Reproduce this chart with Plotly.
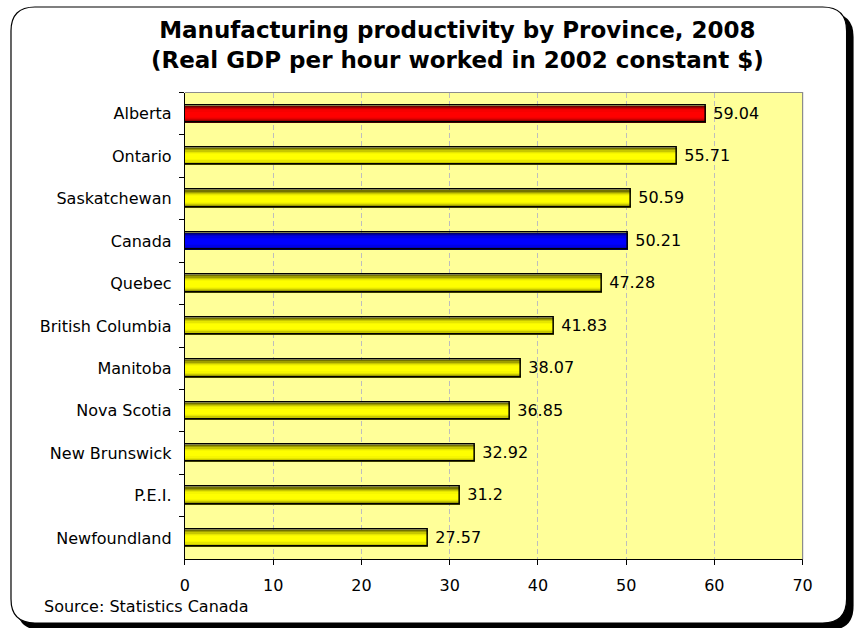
import plotly.graph_objects as go

# ---------------- data ----------------
provinces = ["Alberta", "Ontario", "Saskatchewan", "Canada", "Quebec",
             "British Columbia", "Manitoba", "Nova Scotia", "New Brunswick",
             "P.E.I.", "Newfoundland"]
productivity = [59.04, 55.71, 50.59, 50.21, 47.28, 41.83, 38.07, 36.85,
                32.92, 31.2, 27.57]
x_ticks = [0, 10, 20, 30, 40, 50, 60, 70]

title_text = ("<b>Manufacturing productivity by Province, 2008</b><br>"
              "<b>(Real GDP per hour worked in 2002 constant $)</b>")
source_text = "Source: Statistics Canada"

# ---------------- styling ----------------
W, H = 858, 628
FONT = "DejaVu Sans"
highlight = {"Alberta": (255, 0, 0), "Canada": (0, 0, 255)}
default_rgb = (255, 255, 0)
base_rgb = [highlight.get(p, default_rgb) for p in provinces]

def shade(rgb, f):
    return "rgb(%d,%d,%d)" % tuple(int(round(c * f)) for c in rgb)

def cx(x):
    # horizontal layout position (pixels)
    return (x - 5) / 0.983

def px(x):
    return cx(x) / W

def py(y):
    return 1 - y / H

# plot area in pixels
PL, PR, PT, PB = 185, 803, 92.5, 559.3
BAR_W = 0.41

fig = go.Figure()

# gradient layers for each bar (outer dark -> inner bright)
layers = [(1.00, 0.45), (0.86, 0.62), (0.72, 0.78), (0.58, 0.90),
          (0.44, 0.97), (0.30, 1.0)]
for frac, f in layers:
    fig.add_trace(go.Bar(
        y=provinces, x=productivity, orientation="h",
        width=BAR_W * frac,
        marker=dict(color=[shade(c, f) for c in base_rgb], line=dict(width=0)),
        hoverinfo="skip", showlegend=False,
    ))

# outline + labels
fig.add_trace(go.Bar(
    y=provinces, x=productivity, orientation="h", width=BAR_W,
    marker=dict(color="rgba(0,0,0,0)", line=dict(color="black", width=1.5)),
    text=["\u00a0" + f"{v:g}" for v in productivity], textposition="outside",
    textfont=dict(family=FONT, size=16, color="black"),
    constraintext="none", cliponaxis=False, showlegend=False,
))

def rrect(x0, y0, x1, y1, r):
    pts = [("M", [(x0 + r, y0)]), ("L", [(x1 - r, y0)]),
           ("Q", [(x1, y0), (x1, y0 + r)]), ("L", [(x1, y1 - r)]),
           ("Q", [(x1, y1), (x1 - r, y1)]), ("L", [(x0 + r, y1)]),
           ("Q", [(x0, y1), (x0, y1 - r)]), ("L", [(x0, y0 + r)]),
           ("Q", [(x0, y0), (x0 + r, y0)])]
    s = ""
    for cmd, ps in pts:
        s += cmd + " " + " ".join("%.5f,%.5f" % (px(a), py(b)) for a, b in ps) + " "
    return s + "Z"

shapes = [
    # shadow
    dict(type="path", xref="paper", yref="paper", path=rrect(17, 13, 854, 630, 24),
         fillcolor="black", line=dict(width=0), layer="below"),
    # frame
    dict(type="path", xref="paper", yref="paper", path=rrect(11, 7, 847, 623, 24),
         fillcolor="white", line=dict(color="black", width=1.2), layer="below"),
    # plot area fill
    dict(type="rect", xref="paper", yref="paper", x0=px(PL), x1=px(PR),
         y0=py(PB), y1=py(PT), fillcolor="#FFFF99", line=dict(width=0), layer="below"),
    # grey top/right border
    dict(type="path", xref="paper", yref="paper",
         path="M %.5f,%.5f L %.5f,%.5f L %.5f,%.5f" % (px(PL), py(PT), px(PR), py(PT), px(PR), py(PB)),
         line=dict(color="#8C8C8C", width=1.2), layer="above"),
]

annotations = [
    dict(text=title_text, x=px(458), y=py(45), xref="paper", yref="paper",
         xanchor="center", yanchor="middle", showarrow=False, align="center",
         font=dict(family=FONT, size=23, color="black")),
    dict(text=source_text, x=px(42), y=py(606), xref="paper", yref="paper",
         xanchor="left", yanchor="middle", showarrow=False,
         font=dict(family=FONT, size=16, color="black")),
]

fig.update_layout(
    width=W, height=H, margin=dict(l=0, r=0, t=0, b=0),
    paper_bgcolor="white", plot_bgcolor="rgba(0,0,0,0)",
    barmode="overlay", bargap=0,
    shapes=shapes, annotations=annotations,
    font=dict(family=FONT, size=16, color="black"),
    xaxis=dict(domain=[px(PL), px(PR)], range=[0, 70], tickvals=x_ticks,
               ticks="outside", ticklen=5, tickcolor="black",
               showline=True, linecolor="black", linewidth=1.2,
               showgrid=True, gridcolor="#BEBEBE", griddash="5px,3px", gridwidth=1,
               zeroline=False, ticklabelstandoff=6,
               tickfont=dict(family=FONT, size=16, color="black"), fixedrange=True),
    yaxis=dict(domain=[py(PB), py(PT)], type="category", autorange="reversed",
               tickson="boundaries", ticks="outside", ticklen=5, tickcolor="black",
               showline=True, linecolor="black", linewidth=1.2, showgrid=False,
               ticklabelstandoff=9,
               tickfont=dict(family=FONT, size=16, color="black"), fixedrange=True),
)

fig.write_html("out.html")
